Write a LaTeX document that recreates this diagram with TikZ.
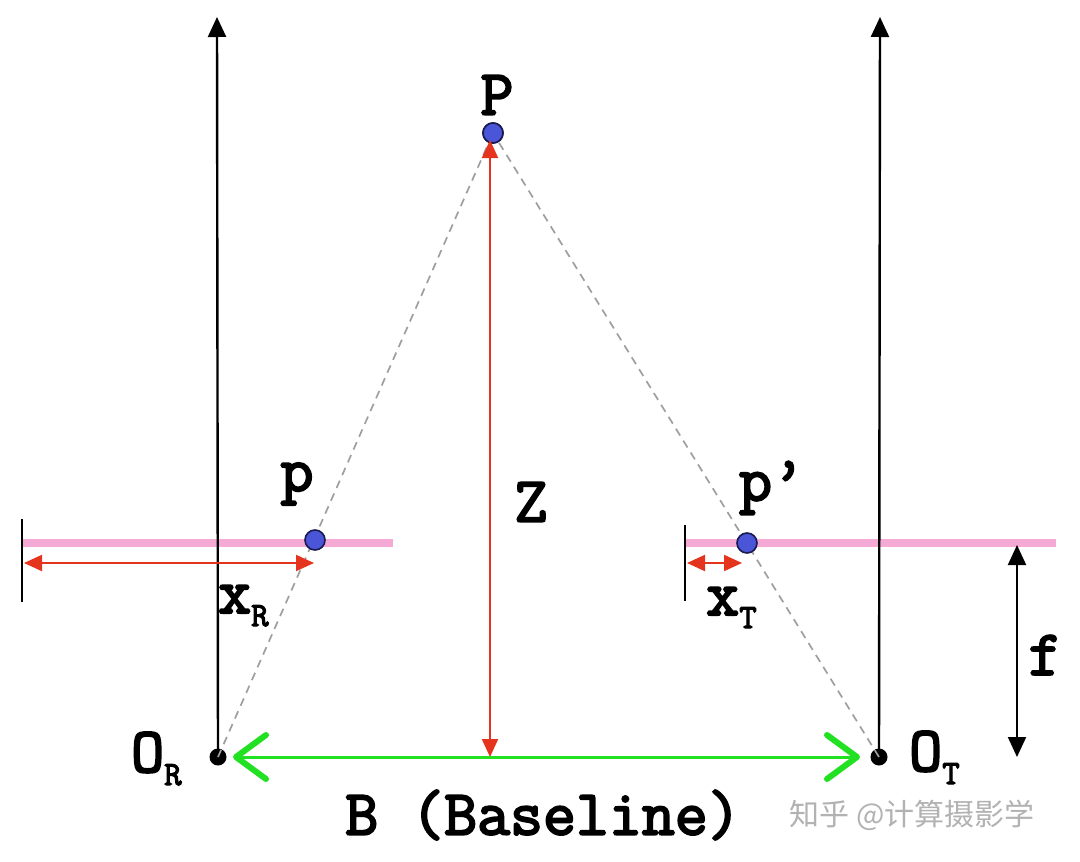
\documentclass[tikz,border=0pt]{standalone}
\usepackage{fontspec}
\newfontfamily\cjkfont{Noto Sans CJK SC}
\newfontfamily\labfont{Latin Modern Mono}[FakeBold=3.2]
\usetikzlibrary{arrows.meta}
\definecolor{planepink}{HTML}{F4AAD4}
\definecolor{arrred}{HTML}{E5341E}
\definecolor{basegreen}{HTML}{22E022}
\definecolor{dotblue}{HTML}{4A55D8}
\definecolor{dotedge}{HTML}{1A1A50}
\newcommand\lsub[1]{\raisebox{-13pt}{\fontsize{34}{34}\selectfont #1}}
\tikzset{
  lab/.style={font=\labfont\fontsize{64}{66}\selectfont, inner sep=0pt},
  axis/.style={line width=2.4pt, black, -{Triangle[length=20pt,width=18pt]}},
  plane/.style={line width=8.5pt, planepink},
  tick/.style={line width=2.2pt, black},
  ray/.style={line width=1.7pt, gray!75, dash pattern=on 8pt off 6pt},
  redarr/.style={line width=2pt, arrred, {Triangle[length=18pt,width=16pt]}-{Triangle[length=18pt,width=16pt]}},
  blackarr/.style={line width=2pt, black, {Triangle[length=20pt,width=18pt]}-{Triangle[length=20pt,width=18pt]}},
  greenarr/.style={line width=3pt, basegreen, {Straight Barb[length=30pt,width=44pt,line width=6pt,round]}-{Straight Barb[length=30pt,width=44pt,line width=6pt,round]}},
  ptdot/.style={circle, fill=dotblue, draw=dotedge, line width=1.6pt, minimum size=20pt, inner sep=0pt},
  centre/.style={circle, fill=black, minimum size=17pt, inner sep=0pt},
}
\begin{document}
\begin{tikzpicture}[x=1pt,y=-1pt]
\useasboundingbox (0,0) rectangle (1080,862);
\fill[white] (0,0) rectangle (1080,862);
% coordinates
\coordinate (ORtop) at (217,17);
\coordinate (OTtop) at (880,17);
\coordinate (LPa) at (22,543);
\coordinate (LPb) at (393,543);
\coordinate (RPa) at (686,543);
\coordinate (RPb) at (1056,543);
\coordinate (LTa) at (22,519);
\coordinate (LTb) at (22,602);
\coordinate (RTa) at (685,525);
\coordinate (RTb) at (685,601);
\coordinate (xRa) at (24,563);
\coordinate (xRb) at (314,563);
\coordinate (xTa) at (687,563);
\coordinate (xTb) at (742,563);
\coordinate (fa) at (1017,545);
\coordinate (fb) at (1017,757);
\coordinate (Ztop) at (490,140);
\coordinate (Zbot) at (490,757);
\coordinate (Ba) at (233,757);
\coordinate (Bb) at (860,757);
% image planes
\draw[plane] (LPa) -- (LPb);
\draw[plane] (RPa) -- (RPb);
\draw[tick] (LTa) -- (LTb);
\draw[tick] (RTa) -- (RTb);
% centres
\node[centre] (OR) at (218,757) {};
\node[centre] (OT) at (879,757) {};
% optical axes
\draw[axis] (OR.center) -- (ORtop);
\draw[axis] (OT.center) -- (OTtop);
% point P
\node[ptdot] (P) at (493,133) {};
% rays
\draw[ray] (OR.center) -- (P.center);
\draw[ray] (OT.center) -- (P.center);
% image points
\node[ptdot] (p) at (315,540) {};
\node[ptdot] (pp) at (747,543) {};
\node[ptdot] at (493,133) {};
% measurements
\draw[redarr] (Ztop) -- (Zbot);
\draw[redarr] (xRa) -- (xRb);
\draw[redarr] (xTa) -- (xTb);
\draw[blackarr] (fa) -- (fb);
\draw[greenarr] (Ba) -- (Bb);
% labels
\node[lab] (Plab) at (497,95) {P};
\node[lab] (plab) at (297,484) {p};
\node[lab] (pplab) at (772,488) {p’};
\node[lab, anchor=base west] (xRlab) at (218,613) {x\lsub{R}};
\node[lab, anchor=base west] (xTlab) at (706,615) {x\lsub{T}};
\node[lab] (Zlab) at (531,502) {Z};
\node[lab] (flab) at (1045,655) {f};
\node[lab, anchor=base west] (ORlab) at (131,772) {O\lsub{R}};
\node[lab, anchor=base west] (OTlab) at (909,771) {O\lsub{T}};
\node[lab] (Blab) at (543,815) {B (Baseline)};
\node[font=\cjkfont\fontsize{30}{32}\selectfont, text=black!30, inner sep=0pt] (wm) at (912,815) {知乎 @计算摄影学};
\end{tikzpicture}
\end{document}
